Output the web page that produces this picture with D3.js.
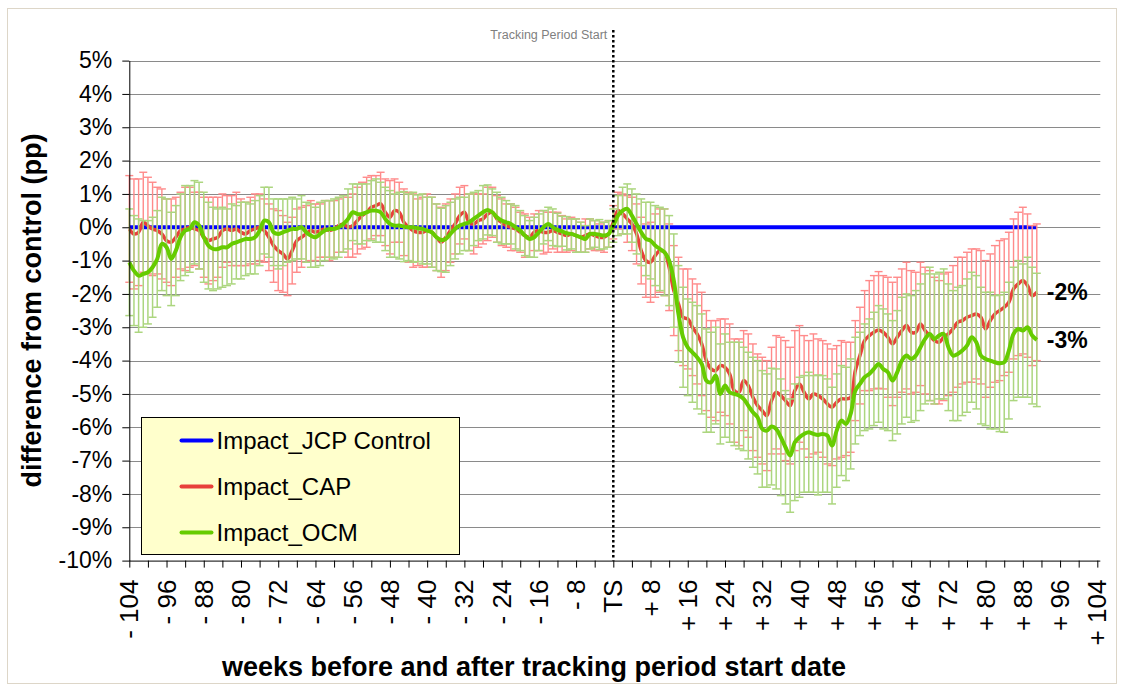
<!DOCTYPE html>
<html>
<head>
<meta charset="utf-8">
<script src="https://cdn.jsdelivr.net/npm/d3@7"></script>
<style>
  body { margin: 0; background: #fff; }
  svg { display: block; font-family: Arial, "Liberation Sans", sans-serif; }
</style>
</head>
<body>
<svg width="1124" height="689"></svg>
<script>
// weeks relative to tracking period start (TS = 0)
var weeks = d3.range(-104, 92);

var tickWeeks  = [-104, -96, -88, -80, -72, -64, -56, -48, -40, -32, -24, -16, -8, 0,
                  8, 16, 24, 32, 40, 48, 56, 64, 72, 80, 88, 96, 104];
var tickLabels = ["- 104", "- 96", "- 88", "- 80", "- 72", "- 64", "- 56", "- 48", "- 40", "- 32", "- 24", "- 16", "- 8", "TS",
                  "+ 8", "+ 16", "+ 24", "+ 32", "+ 40", "+ 48", "+ 56", "+ 64", "+ 72", "+ 80", "+ 88", "+ 96", "+ 104"];
var yTicks = [5, 4, 3, 2, 1, 0, -1, -2, -3, -4, -5, -6, -7, -8, -9, -10];

var seriesNames = ["Impact_JCP Control", "Impact_CAP", "Impact_OCM"];

// difference from control, percentage points, one value per week
var jcpControl = [
  0,0,0,0,0,0,0,0,0,0, 0,0,0,0,0,0,0,0,0,0,
  0,0,0,0,0,0,0,0,0,0, 0,0,0,0,0,0,0,0,0,0,
  0,0,0,0,0,0,0,0,0,0, 0,0,0,0,0,0,0,0,0,0,
  0,0,0,0,0,0,0,0,0,0, 0,0,0,0,0,0,0,0,0,0,
  0,0,0,0,0,0,0,0,0,0, 0,0,0,0,0,0,0,0,0,0,
  0,0,0,0,0,0,0,0,0,0, 0,0,0,0,0,0,0,0,0,0,
  0,0,0,0,0,0,0,0,0,0, 0,0,0,0,0,0,0,0,0,0,
  0,0,0,0,0,0,0,0,0,0, 0,0,0,0,0,0,0,0,0,0,
  0,0,0,0,0,0,0,0,0,0, 0,0,0,0,0,0,0,0,0,0,
  0,0,0,0,0,0,0,0,0,0, 0,0,0,0,0,0
];

var impactCap = [
  -0.05,-0.2,-0.15,0.15,0.05,-0.05,-0.1,-0.2,-0.4,-0.45,
  -0.3,-0.1,-0.05,0.0,-0.05,-0.1,-0.3,-0.4,-0.35,-0.3,
  -0.1,-0.05,-0.1,-0.05,-0.15,-0.2,-0.1,-0.05,0.0,-0.1,
  -0.3,-0.55,-0.7,-0.8,-0.95,-0.7,-0.4,-0.3,-0.2,-0.1,
  -0.15,-0.1,-0.05,-0.1,-0.05,0.05,0.1,0.0,0.05,0.2,
  0.35,0.45,0.6,0.65,0.7,0.45,0.3,0.5,0.45,0.15,
  0.0,-0.1,-0.15,-0.15,-0.1,-0.15,-0.3,-0.45,-0.3,-0.1,
  0.1,0.35,0.45,0.15,0.1,0.2,0.25,0.4,0.45,0.25,
  0.15,0.05,0.0,-0.05,-0.15,-0.25,-0.3,-0.15,-0.1,-0.15,
  -0.15,-0.1,-0.15,-0.2,-0.25,-0.2,-0.25,-0.3,-0.25,-0.2,
  -0.25,-0.3,-0.3,-0.2,0.15,
  0.5,0.4,0.25,0.1,-0.2,-0.7,-1.0,-1.05,-0.85,-0.7,
  -0.75,-1.2,-1.9,-2.3,-2.7,-2.75,-3.0,-3.2,-3.5,-4.0,
  -4.25,-4.3,-4.15,-4.2,-4.4,-4.9,-4.95,-4.6,-4.75,-5.1,
  -5.35,-5.5,-5.65,-5.2,-4.95,-5.05,-5.2,-5.35,-4.9,-4.7,
  -4.95,-5.15,-5.0,-5.05,-5.15,-5.3,-5.4,-5.25,-5.15,-5.15,
  -5.1,-4.3,-3.85,-3.4,-3.25,-3.15,-3.08,-3.15,-3.3,-3.5,
  -3.3,-3.1,-2.95,-3.15,-3.15,-2.9,-3.1,-3.25,-3.4,-3.45,
  -3.3,-3.2,-3.05,-2.85,-2.8,-2.7,-2.65,-2.6,-2.7,-3.05,
  -2.8,-2.6,-2.5,-2.4,-2.25,-1.85,-1.7,-1.6,-1.75,-2.05,-1.95
];

var impactOcm = [
  -1.05,-1.3,-1.45,-1.4,-1.35,-1.2,-0.95,-0.5,-0.6,-0.95,
  -0.7,-0.3,-0.1,-0.05,0.15,0.05,-0.3,-0.55,-0.65,-0.65,
  -0.6,-0.6,-0.5,-0.45,-0.4,-0.35,-0.35,-0.3,-0.1,0.2,
  0.15,-0.15,-0.2,-0.15,-0.1,-0.05,-0.05,0.0,-0.15,-0.25,
  -0.3,-0.2,-0.1,-0.05,-0.05,0.0,0.1,0.25,0.45,0.4,
  0.4,0.45,0.5,0.5,0.45,0.25,0.1,0.05,0.05,0.02,
  0.0,0.0,-0.03,-0.05,-0.1,-0.15,-0.3,-0.38,-0.35,-0.2,
  -0.05,0.05,0.1,0.15,0.25,0.35,0.45,0.52,0.45,0.3,
  0.2,0.15,0.1,0.0,-0.1,-0.25,-0.35,-0.3,-0.15,0.0,
  0.1,0.0,-0.08,-0.12,-0.18,-0.2,-0.25,-0.3,-0.35,-0.2,
  -0.2,-0.22,-0.25,-0.2,0.05,
  0.35,0.5,0.55,0.35,0.1,-0.15,-0.35,-0.4,-0.55,-0.65,
  -0.75,-1.0,-1.6,-2.6,-3.3,-3.6,-3.75,-3.9,-4.1,-4.6,
  -4.65,-4.45,-5.0,-4.75,-4.95,-5.0,-5.05,-5.15,-5.35,-5.55,
  -5.7,-6.05,-6.1,-5.98,-6.05,-6.3,-6.6,-6.85,-6.45,-6.3,
  -6.2,-6.15,-6.2,-6.23,-6.2,-6.25,-6.55,-6.1,-5.8,-5.9,
  -5.6,-4.9,-4.7,-4.5,-4.4,-4.25,-4.1,-4.25,-4.35,-4.6,
  -4.35,-4.0,-3.85,-3.95,-3.85,-3.6,-3.35,-3.2,-3.35,-3.25,
  -3.2,-3.6,-3.85,-3.8,-3.7,-3.55,-3.3,-3.45,-3.85,-3.95,
  -4.0,-4.05,-4.08,-4.05,-3.7,-3.2,-3.05,-3.1,-3.0,-3.25,-3.38
];

// error bar half widths (pp), one per week
var capErr = [
  1.6,1.65,1.6,1.5,1.45, 1.4,1.3,1.35,1.25,1.3, 1.2,1.15,1.25,1.2,1.1, 1.15,1.2,1.3,1.25,1.2,
  1.1,1.0,1.05,1.1,1.0, 0.95,1.0,1.05,1.0,0.95, 1.0,1.1,1.2,1.15,1.1, 1.0,0.95,0.9,0.85,0.9,
  0.85,0.8,0.85,0.9,0.85, 0.8,0.85,0.9,0.95,1.0, 1.0,1.05,0.95,0.9,0.95, 1.0,1.1,0.95,0.9,1.0,
  1.05,1.1,1.0,1.05,1.1, 1.05,1.0,1.05,1.0,0.95, 0.9,0.85,0.8,0.85,0.9, 0.8,0.75,0.8,0.75,0.7,
  0.7,0.65,0.7,0.65,0.6, 0.65,0.6,0.55,0.6,0.65, 0.6,0.55,0.6,0.55,0.5, 0.5,0.5,0.45,0.5,0.45,
  0.45,0.4,0.45,0.4,0.5,
  0.55,0.6,0.7,0.8,0.9, 1.0,1.1,1.2,1.25,1.25, 1.3,1.3,1.35,1.4,1.45, 1.5,1.45,1.5,1.55,1.5,
  1.45,1.5,1.4,1.45,1.5, 1.55,1.6,1.5,1.55,1.6, 1.55,1.6,1.65,1.6,1.7, 1.75,1.8,1.75,1.8,1.75,
  1.7,1.75,1.8,1.7,1.75, 1.8,1.75,1.7,1.75,1.7, 1.65,1.5,1.45,1.5,1.65, 1.7,1.75,1.7,1.8,1.85,
  1.8,1.85,1.9,1.85,1.8, 1.85,1.9,1.95,1.9,1.85, 1.9,1.85,1.9,1.95,1.9, 1.95,2.0,1.95,2.0,2.05,
  2.0,2.05,2.1,2.05,2.1, 2.1,2.15,2.2,2.15,2.1,2.05
];

var ocmErr = [
  1.6,1.65,1.7,1.6,1.55, 1.5,1.45,1.4,1.45,1.4, 1.35,1.3,1.35,1.3,1.25, 1.3,1.35,1.3,1.25,1.2,
  1.2,1.15,1.2,1.1,1.15, 1.1,1.05,1.1,1.05,1.0, 1.05,1.0,1.05,1.0,0.95, 0.95,0.9,0.95,0.9,0.95,
  0.9,0.95,0.9,0.85,0.9, 0.9,0.85,0.9,0.85,0.9, 0.9,0.85,0.9,0.95,0.9, 0.95,1.0,0.95,1.0,1.05,
  1.0,1.05,1.0,1.05,1.0, 1.05,1.0,0.95,1.0,0.95, 0.9,0.85,0.8,0.85,0.8, 0.75,0.8,0.75,0.7,0.75,
  0.7,0.65,0.6,0.65,0.6, 0.6,0.55,0.6,0.55,0.5, 0.5,0.55,0.5,0.45,0.5, 0.45,0.5,0.45,0.4,0.45,
  0.4,0.45,0.4,0.4,0.5,
  0.6,0.7,0.75,0.8,0.9, 1.0,1.1,1.15,1.2,1.25, 1.3,1.35,1.4,1.45,1.5, 1.45,1.5,1.55,1.5,1.55,
  1.5,1.45,1.5,1.55,1.5, 1.55,1.6,1.55,1.6,1.65, 1.7,1.75,1.7,1.75,1.8, 1.75,1.7,1.7,1.75,1.8,
  1.75,1.8,1.75,1.8,1.75, 1.7,1.75,1.7,1.65,1.7, 1.65,1.6,1.55,1.6,1.65, 1.7,1.75,1.8,1.75,1.8,
  1.85,1.9,1.85,1.9,1.95, 1.9,1.95,2.0,1.95,1.9, 1.95,1.9,1.95,2.0,1.95, 2.0,1.95,2.0,2.05,2.0,
  2.05,2.0,2.05,2.1,2.05, 2.0,2.05,2.0,2.1,2.05,2.0
];

var colors = { blue: "#0000ff", red: "#e8403a", green: "#66cc00",
               redBar: "#ff8a8a", greenBar: "#acd67f" };

var svg = d3.select("svg");

var x = d3.scaleLinear().domain([-104, 104]).range([129.3, 1097.3]),
    y = d3.scaleLinear().domain([-10, 5]).range([560.6, 60.6]);
var plotRight = x.range()[1] + 3;

// chart frame
svg.append("rect")
  .attr("x", 7.5).attr("y", 8.5)
  .attr("width", 1109).attr("height", 675)
  .attr("fill", "#fff")
  .attr("stroke", "#ddd6c8");

// horizontal gridlines
svg.append("g").selectAll("line")
  .data(yTicks.filter(function(d) { return d > -10; }))
  .enter().append("line")
    .attr("x1", x.range()[0]).attr("x2", plotRight)
    .attr("y1", function(d) { return Math.round(y(d)) + 0.5; })
    .attr("y2", function(d) { return Math.round(y(d)) + 0.5; })
    .attr("stroke", "#8a8a8a")
    .attr("stroke-width", 1);

function rows(values, errs) {
  return weeks.map(function(w, i) {
    return { w: w, v: values[i], e: errs ? errs[i] : 0 };
  }).filter(function(d) { return d.v !== undefined; });
}

var line = d3.line()
  .x(function(d) { return x(d.w); })
  .y(function(d) { return y(d.v); })
  .curve(d3.curveCatmullRom);

function drawBars(data, color, width) {
  var g = svg.append("g")
    .attr("stroke", color)
    .attr("stroke-width", width)
    .attr("fill", "none");
  data.forEach(function(d) {
    var cx = x(d.w), top = y(d.v + d.e), bot = y(d.v - d.e);
    g.append("line").attr("x1", cx).attr("x2", cx).attr("y1", top).attr("y2", bot);
    g.append("line").attr("x1", cx - 4).attr("x2", cx + 4).attr("y1", top).attr("y2", top);
    g.append("line").attr("x1", cx - 4).attr("x2", cx + 4).attr("y1", bot).attr("y2", bot);
  });
}

function drawLine(data, color, width) {
  svg.append("path")
    .datum(data)
    .attr("d", line)
    .attr("fill", "none")
    .attr("stroke", color)
    .attr("stroke-width", width)
    .attr("stroke-linejoin", "round");
}

var ctrlData = rows(jcpControl),
    capData  = rows(impactCap, capErr),
    ocmData  = rows(impactOcm, ocmErr);

drawLine(ctrlData, colors.blue, 4);
drawBars(capData, colors.redBar, 1.4);
drawLine(capData, colors.red, 3.5);
drawBars(ocmData, colors.greenBar, 1.5);
drawLine(ocmData, colors.green, 4);

// tracking period start marker
svg.append("line")
  .attr("x1", x(0)).attr("x2", x(0))
  .attr("y1", 30).attr("y2", y(-10))
  .attr("stroke", "#000")
  .attr("stroke-width", 2.5)
  .attr("stroke-dasharray", "2.5,2.5");

svg.append("text")
  .attr("x", x(0) - 6).attr("y", 38.5)
  .attr("text-anchor", "end")
  .attr("font-size", 12.5)
  .attr("fill", "#7f7f7f")
  .text("Tracking Period Start");

// y axis
var yAxis = svg.append("g")
  .attr("transform", "translate(" + x.range()[0] + ",0)")
  .call(d3.axisLeft(y)
    .tickValues(yTicks)
    .tickSize(7)
    .tickSizeOuter(0)
    .tickPadding(10)
    .tickFormat(function(d) { return d + "%"; }));
yAxis.selectAll("text")
  .attr("font-size", 23)
  .attr("font-family", "Arial, 'Liberation Sans', sans-serif")
  .attr("fill", "#000");
yAxis.selectAll("line, path").attr("stroke", "#000");

// x axis
var xAxis = svg.append("g")
  .attr("transform", "translate(0," + y.range()[0] + ")")
  .call(d3.axisBottom(x)
    .tickValues(d3.range(-104, 105, 4))
    .tickSize(7)
    .tickSizeOuter(0)
    .tickFormat(""));
xAxis.selectAll("line, path").attr("stroke", "#000");
xAxis.select(".domain").attr("d", "M" + x.range()[0] + ",0.5H" + plotRight);

svg.append("g").selectAll("text")
  .data(tickWeeks)
  .enter().append("text")
    .attr("transform", function(d) { return "translate(" + x(d) + "," + (y.range()[0] + 19) + ") rotate(-90)"; })
    .attr("text-anchor", "end")
    .attr("dy", "0.35em")
    .attr("font-size", 26)
    .attr("fill", "#000")
    .text(function(d, i) { return tickLabels[i]; });

// axis titles
svg.append("text")
  .attr("transform", "translate(41," + ((y.range()[0] + y.range()[1]) / 2) + ") rotate(-90)")
  .attr("text-anchor", "middle")
  .attr("font-size", 27)
  .attr("font-weight", "bold")
  .text("difference from control (pp)");

svg.append("text")
  .attr("x", 534).attr("y", 676)
  .attr("text-anchor", "middle")
  .attr("font-size", 27)
  .attr("font-weight", "bold")
  .text("weeks before and after tracking period start date");

// end value labels
[capData, ocmData].forEach(function(data) {
  var last = data[data.length - 1];
  svg.append("text")
    .attr("x", x(last.w) + 10)
    .attr("y", y(last.v))
    .attr("dy", "0.35em")
    .attr("font-size", 23)
    .attr("font-weight", "bold")
    .text(Math.round(last.v) + "%");
});

// legend
var legend = svg.append("g").attr("transform", "translate(141.5,417.5)");
legend.append("rect")
  .attr("width", 318).attr("height", 137)
  .attr("fill", "#ffffcc")
  .attr("stroke", "#000")
  .attr("stroke-width", 1);
var legendColors = [colors.blue, colors.red, colors.green];
seriesNames.forEach(function(name, i) {
  var ly = 23 + i * 46;
  legend.append("line")
    .attr("x1", 40).attr("x2", 70)
    .attr("y1", ly).attr("y2", ly)
    .attr("stroke", legendColors[i])
    .attr("stroke-width", 4)
    .attr("stroke-linecap", "round");
  legend.append("text")
    .attr("x", 75).attr("y", ly)
    .attr("dy", "0.35em")
    .attr("font-size", 24)
    .attr("fill", "#000")
    .text(name);
});
</script>
</body>
</html>
